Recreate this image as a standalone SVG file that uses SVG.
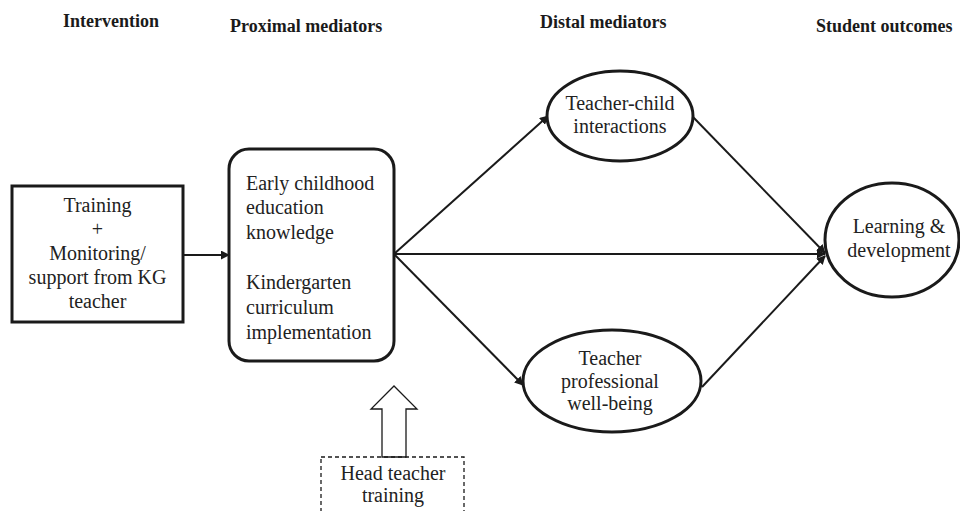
<svg xmlns="http://www.w3.org/2000/svg" width="960" height="511" viewBox="0 0 960 511">
<style>
  .hdr { font-family: "Liberation Serif", "Times New Roman", serif; font-weight: bold; font-size: 18px; fill: #1a1a1a; }
  .lbl { font-family: "Liberation Serif", "Times New Roman", serif; font-size: 20px; fill: #222; }
  .mid { text-anchor: middle; }
  .node { fill: #fff; stroke: #1a1a1a; stroke-width: 3; }
  .conn { stroke: #1a1a1a; stroke-width: 2; fill: none; marker-end: url(#ah); }
</style>
<defs>
  <marker id="ah" viewBox="0 0 10 10" refX="9" refY="5" markerWidth="4.5" markerHeight="4.5" orient="auto" markerUnits="strokeWidth">
    <path d="M0,0 L10,5 L0,10 z" fill="#1a1a1a"/>
  </marker>
</defs>
<rect width="960" height="511" fill="#fff"/>

<g id="headers">
  <text class="hdr" x="63" y="27">Intervention</text>
  <text class="hdr" x="230" y="32">Proximal mediators</text>
  <text class="hdr" x="540" y="28">Distal mediators</text>
  <text class="hdr" x="816" y="32">Student outcomes</text>
</g>

<g id="connectors">
  <line class="conn" x1="183" y1="255" x2="229" y2="255"/>
  <line class="conn" x1="394" y1="254" x2="548" y2="116"/>
  <line class="conn" x1="394" y1="254" x2="825" y2="254"/>
  <line class="conn" x1="394" y1="254" x2="523" y2="385"/>
  <line class="conn" x1="693" y1="117" x2="825" y2="253"/>
  <line class="conn" x1="702" y1="387" x2="825" y2="256"/>
</g>

<g id="intervention">
  <rect class="node" x="12" y="186" width="171" height="136"/>
  <text class="lbl mid" x="97.5" y="212">Training</text>
  <text class="lbl mid" x="97.5" y="236">+</text>
  <text class="lbl mid" x="97.5" y="260">Monitoring/</text>
  <text class="lbl mid" x="97.5" y="284">support from KG</text>
  <text class="lbl mid" x="97.5" y="308">teacher</text>
</g>

<g id="proximal">
  <rect class="node" x="229" y="149" width="165" height="212" rx="20" ry="20"/>
  <text class="lbl" x="246" y="190">Early childhood</text>
  <text class="lbl" x="246" y="214">education</text>
  <text class="lbl" x="246" y="239">knowledge</text>
  <text class="lbl" x="246" y="289">Kindergarten</text>
  <text class="lbl" x="246" y="314">curriculum</text>
  <text class="lbl" x="246" y="339">implementation</text>
</g>

<g id="teacher-child">
  <ellipse class="node" cx="620" cy="116" rx="73" ry="45"/>
  <text class="lbl mid" x="620" y="110">Teacher-child</text>
  <text class="lbl mid" x="620" y="133">interactions</text>
</g>

<g id="wellbeing">
  <ellipse class="node" cx="612" cy="381" rx="89" ry="51"/>
  <text class="lbl mid" x="610" y="365">Teacher</text>
  <text class="lbl mid" x="610" y="388">professional</text>
  <text class="lbl mid" x="610" y="410">well-being</text>
</g>

<g id="outcomes">
  <ellipse class="node" cx="892" cy="240" rx="67" ry="57"/>
  <text class="lbl mid" x="899" y="233">Learning &amp;</text>
  <text class="lbl mid" x="899" y="257">development</text>
</g>

<g id="head-teacher">
  <polygon points="382,457 382,409 371,409 394,386 417,409 406,409 406,457" fill="#fff" stroke="#1a1a1a" stroke-width="1.3"/>
  <rect x="321" y="457" width="143" height="70" fill="none" stroke="#1a1a1a" stroke-width="1.3" stroke-dasharray="4,3"/>
  <text class="lbl mid" x="393" y="480">Head teacher</text>
  <text class="lbl mid" x="393" y="502">training</text>
</g>
</svg>
